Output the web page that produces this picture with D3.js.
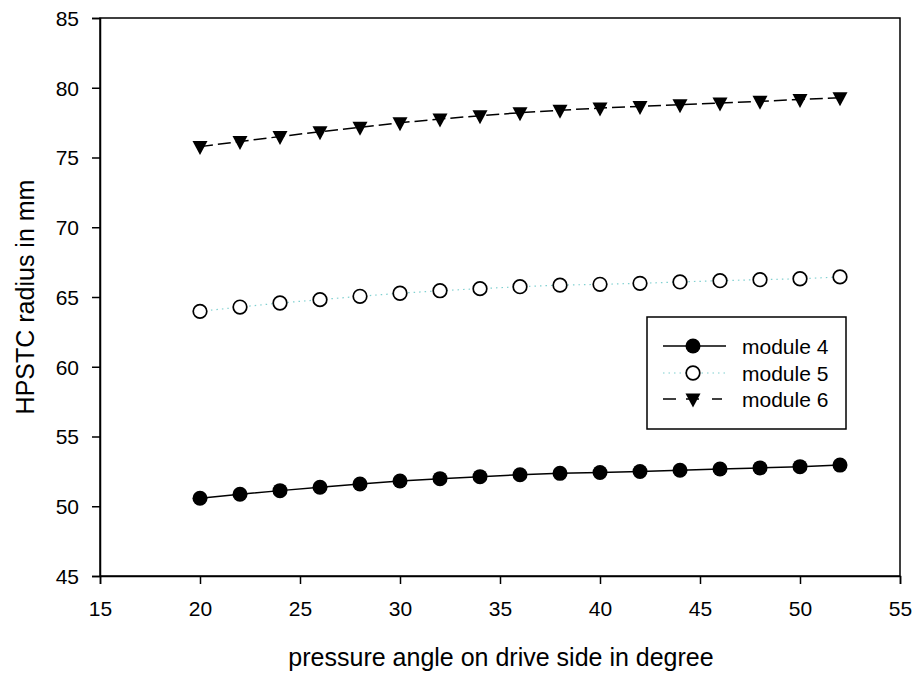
<!DOCTYPE html>
<html>
<head>
<meta charset="utf-8">
<script src="https://cdn.jsdelivr.net/npm/d3@7"></script>
<style>
  html, body { margin: 0; padding: 0; background: #fff; }
  svg { display: block; font-family: "Liberation Sans", Arial, sans-serif; }
</style>
</head>
<body>
<svg id="chart" width="917" height="675"></svg>
<script>
const angles = [20, 22, 24, 26, 28, 30, 32, 34, 36, 38, 40, 42, 44, 46, 48, 50, 52];
const module4 = [50.57, 50.86, 51.12, 51.36, 51.59, 51.81, 51.98, 52.12, 52.26, 52.36, 52.42, 52.49, 52.58, 52.67, 52.75, 52.84, 52.95];
const module5 = [63.97, 64.28, 64.57, 64.81, 65.05, 65.27, 65.45, 65.60, 65.74, 65.85, 65.91, 65.98, 66.08, 66.17, 66.24, 66.31, 66.44];
const module6 = [75.78, 76.15, 76.50, 76.85, 77.17, 77.49, 77.76, 78.00, 78.21, 78.39, 78.54, 78.66, 78.79, 78.91, 79.03, 79.16, 79.29];
const seriesNames = ["module 4", "module 5", "module 6"];
const xTicks = [15, 20, 25, 30, 35, 40, 45, 50, 55];
const yTicks = [45, 50, 55, 60, 65, 70, 75, 80, 85];
const xTitle = "pressure angle on drive side in degree";
const yTitle = "HPSTC radius in mm";

const svg = d3.select("#chart");
const L = 100, R = 900, T = 18, B = 576;
const x = d3.scaleLinear().domain([15, 55]).range([L, R]);
const y = d3.scaleLinear().domain([45, 85]).range([B, T]);

// frame
svg.append("rect").attr("x", L).attr("y", T).attr("width", R - L).attr("height", B - T)
  .attr("fill", "none").attr("stroke", "#000").attr("stroke-width", 1.5);

// axes
const xAxis = svg.append("g").attr("transform", `translate(0,${B})`)
  .call(d3.axisBottom(x).tickValues(xTicks).tickSize(8).tickPadding(17).tickFormat(d3.format("d")));
const yAxis = svg.append("g").attr("transform", `translate(${L},0)`)
  .call(d3.axisLeft(y).tickValues(yTicks).tickSize(8).tickPadding(13).tickFormat(d3.format("d")));
[xAxis, yAxis].forEach(g => {
  g.select(".domain").attr("stroke", "#000").attr("stroke-width", 1.5);
  g.selectAll(".tick line").attr("stroke", "#000").attr("stroke-width", 1.5);
  g.selectAll(".tick text").attr("fill", "#000").style("font-size", "21px")
    .style("font-family", "'Liberation Sans', Arial, sans-serif");
});
yAxis.selectAll(".tick text").attr("dy", "0.35em");

// titles
svg.append("text").attr("x", 501).attr("y", 666).attr("text-anchor", "middle")
  .style("font-size", "25px").attr("fill", "#000").text(xTitle);
svg.append("text").attr("transform", "translate(34,297) rotate(-90)").attr("text-anchor", "middle")
  .style("font-size", "25px").attr("fill", "#000").text(yTitle);

const data = [module4, module5, module6].map(vals => angles.map((a, i) => ({ x: a, y: vals[i] })));
const styles = [
  { stroke: "#000", width: 1.5, dash: null },
  { stroke: "#7fd0d0", width: 1.2, dash: "1.5,4" },
  { stroke: "#000", width: 1.5, dash: "13,5" }
];
const line = d3.line().x(d => x(d.x)).y(d => y(d.y));

function drawMarker(g, k, cx, cy) {
  if (k === 0) {
    g.append("circle").attr("cx", cx).attr("cy", cy).attr("r", 7.5).attr("fill", "#000");
  } else if (k === 1) {
    g.append("circle").attr("cx", cx).attr("cy", cy).attr("r", 6.8).attr("fill", "#fff")
      .attr("stroke", "#000").attr("stroke-width", 1.7);
  } else {
    g.append("path").attr("d", `M${cx - 7.5},${cy - 5.5}L${cx + 7.5},${cy - 5.5}L${cx},${cy + 8.5}Z`).attr("fill", "#000");
  }
}

data.forEach((d, k) => {
  const st = styles[k];
  const p = svg.append("path").datum(d).attr("d", line).attr("fill", "none")
    .attr("stroke", st.stroke).attr("stroke-width", st.width);
  if (st.dash) p.attr("stroke-dasharray", st.dash);
  const g = svg.append("g");
  d.forEach(pt => drawMarker(g, k, x(pt.x), y(pt.y)));
});

// legend
const lg = svg.append("g");
lg.append("rect").attr("x", 647).attr("y", 317).attr("width", 199).attr("height", 112)
  .attr("fill", "#fff").attr("stroke", "#000").attr("stroke-width", 1.5);
const rowsY = [346, 373, 399];
seriesNames.forEach((name, k) => {
  const st = styles[k];
  const l = lg.append("line").attr("x1", 663).attr("x2", 726).attr("y1", rowsY[k]).attr("y2", rowsY[k])
    .attr("stroke", st.stroke).attr("stroke-width", st.width);
  if (st.dash) l.attr("stroke-dasharray", k === 2 ? "13,5,0,5,13" : st.dash);
  drawMarker(lg, k, 693, rowsY[k]);
  lg.append("text").attr("x", 742).attr("y", rowsY[k] + 8).style("font-size", "21px")
    .attr("fill", "#000").text(name);
});
</script>
</body>
</html>
